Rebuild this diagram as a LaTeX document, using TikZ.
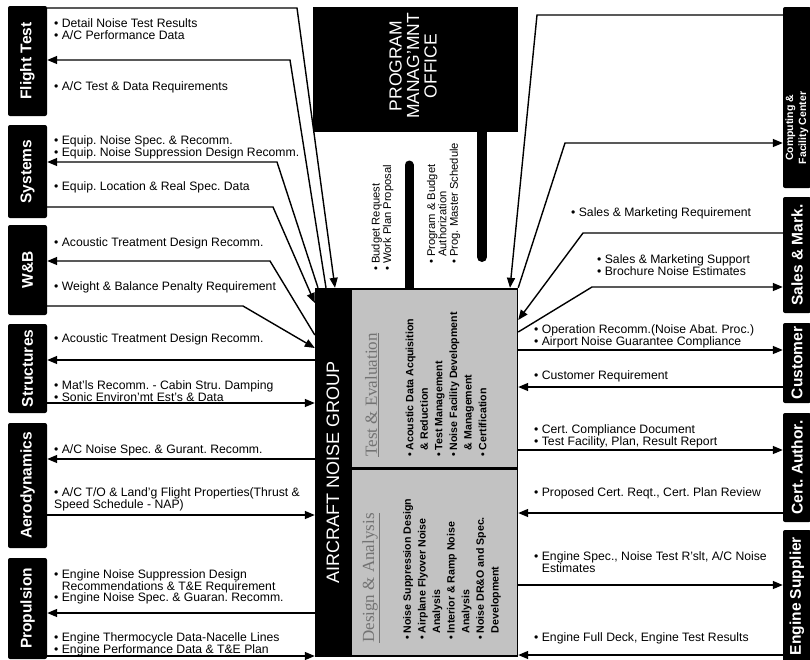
\documentclass[tikz,border=0pt]{standalone}
\usepackage{fontspec}
\setmainfont{Liberation Sans}
\newfontfamily\ttlfont{Liberation Serif}
\usetikzlibrary{arrows.meta,calc}
\frenchspacing
\begin{document}
\begin{tikzpicture}[x=1pt,y=-1pt,
  dept/.style={fill=black, rounded corners=2pt, inner sep=0pt, minimum width=39pt},
  rdept/.style={fill=black, rounded corners=2pt, inner sep=0pt, minimum width=28pt},
  depttext/.style={rotate=90, text=white, inner sep=0pt, font=\bfseries\fontsize{15.5}{16}\selectfont},
  lab/.style={anchor=west, align=left, inner sep=0pt, font=\fontsize{12.2}{11.8}\selectfont},
  conn/.style={line width=1.4pt},
  arr/.style={conn, -{Triangle[length=10pt,width=8pt]}},
  bar/.style={line width=10pt, line cap=round},
  grayarea/.style={fill=black!24, inner sep=0pt},
  ttl/.style={rotate=90, inner sep=0pt, text=black!55, font=\ttlfont\fontsize{17}{17}\selectfont},
  items/.style={rotate=90, anchor=west, align=left, inner sep=0pt, font=\bfseries\fontsize{10.6}{14.6}\selectfont},
  vlab/.style={rotate=90, anchor=west, align=left, inner sep=0pt, font=\fontsize{11.2}{11.4}\selectfont}
]
\useasboundingbox (0,0) rectangle (810,659);
\fill[white] (0,0) rectangle (810,659);

% ---------- left departments ----------
\node[dept, minimum height=110pt] (ft) at (27.5,61) {};
\node[depttext] (ftt) at (ft) {Flight Test};
\node[dept, minimum height=93pt] (sys) at (27.5,171.5) {};
\node[depttext] (syst) at (sys) {Systems};
\node[dept, minimum height=90pt] (wb) at (27.5,270) {};
\node[depttext] (wbt) at (wb) {W\&B};
\node[dept, minimum height=89pt] (str) at (27.5,368.5) {};
\node[depttext] (strt) at (str) {Structures};
\node[dept, minimum height=125pt] (aero) at (27.5,485.5) {};
\node[depttext] (aerot) at (aero) {Aerodynamics};
\node[dept, minimum height=101pt] (prop) at (27.5,608.5) {};
\node[depttext] (propt) at (prop) {Propulsion};

% ---------- right departments ----------
\node[rdept, minimum height=181pt] (comp) at (797,97.5) {};
\node[rotate=90, text=white, inner sep=0pt, align=center, font=\bfseries\fontsize{10.5}{13}\selectfont] (compt) at (797,128) {Computing \&\\Facility Center};
\node[rdept, minimum height=116pt] (sales) at (797,255) {};
\node[depttext] (salest) at (sales) {Sales \& Mark.};
\node[rdept, minimum height=80pt] (cust) at (797,363) {};
\node[depttext] (custt) at (cust) {Customer};
\node[rdept, minimum height=109pt] (cert) at (797,467.5) {};
\node[depttext] (certt) at (cert) {Cert. Author.};
\node[rdept, minimum height=132pt] (eng) at (797,596) {};
\node[depttext] (engt) at (eng) {Engine Supplier};

% ---------- program management office ----------
\node[fill=black, inner sep=0pt, minimum width=205pt, minimum height=125pt] (pmo) at (415.5,69.5) {};
\draw[bar] (pmo.south -| 482,0) -- (482,257);
\draw[line width=9pt, line cap=round] (409,288) -- (409,165);
\node[rotate=90, text=white, align=center, inner sep=0pt, font=\fontsize{17.5}{17.5}\selectfont] (pmot) at (413,66) {PROGRAM\\MANAG'MNT\\OFFICE};

% ---------- aircraft noise group ----------
\node[fill=black, inner sep=0pt, minimum width=203pt, minimum height=369pt] (ang) at (416.5,472.5) {};
\node[grayarea, minimum width=165pt, minimum height=177pt] (te) at (434.5,378.5) {};
\node[grayarea, minimum width=165pt, minimum height=185pt] (da) at (434.5,562.5) {};
\node[rotate=90, text=white, inner sep=0pt, font=\fontsize{18}{18}\selectfont] (angt) at (333,472) {AIRCRAFT NOISE GROUP};

\node[ttl] (tet) at (372,395) {\underline{Test \& Evaluation}};
\node[items] (tei) at (446,457) {• Acoustic Data Acquisition\\\phantom{• }\& Reduction\\• Test Management\\• Noise Facility Development\\\phantom{• }\& Management\\• Certification};
\node[ttl] (dat) at (371,578) {\underline{Design \& Analysis}};
\node[items] (dai) at (452,640) {• Noise Suppression Design\\• Airplane Flyover Noise\\\phantom{• }Analysis\\• Interior \& Ramp Noise\\\phantom{• }Analysis\\• Noise DR\&O and Spec.\\\phantom{• }Development};

% budget labels
\node[vlab] (bud) at (382.5,271) {• Budget Request\\• Work Plan Proposal};
\node[vlab] (prg) at (443.5,264) {• Program \& Budget\\\phantom{• }Authorization\\• Prog. Master Schedule};

% ---------- left connectors ----------
\draw[arr] (ft.east |- 0,8) -- (297,8) -- (335,0 |- ang.north);
\draw[arr] (326,0 |- ang.north) -- (290,60) -- (ft.east |- 0,60);
\draw[arr] (318,0 |- ang.north) -- (277,162) -- (sys.east |- 0,162);
\draw[arr] (sys.east |- 0,207) -- (273,207) -- (ang.west |- 0,303);
\draw[arr] (ang.west |- 0,335) -- (270,261) -- (wb.east |- 0,261);
\draw[arr] (wb.east |- 0,306) -- (243,306) -- (ang.west |- 0,348);
\draw[arr] (ang.west |- 0,360) -- (str.east |- 0,360);
\draw[arr] (str.east |- 0,403) -- (ang.west |- 0,403);
\draw[arr] (ang.west |- 0,459) -- (aero.east |- 0,459);
\draw[arr] (aero.east |- 0,515) -- (ang.west |- 0,515);
\draw[arr] (ang.west |- 0,613) -- (prop.east |- 0,613);
\draw[arr] (prop.east |- 0,656) -- (ang.west |- 0,656);

% ---------- right connectors ----------
\draw[arr] (comp.west |- 0,15) -- (537,15) -- (510,0 |- ang.north);
\draw[arr] (ang.north east) -- (565,143) -- (comp.west |- 0,143);
\draw[arr] (sales.west |- 0,233) -- (583,233) -- (ang.east |- 0,320);
\draw[arr] (ang.east |- 0,332) -- (592,287) -- (sales.west |- 0,287);
\draw[arr] (ang.east |- 0,350) -- (cust.west |- 0,350);
\draw[arr] (cust.west |- 0,387) -- (ang.east |- 0,387);
\draw[arr] (ang.east |- 0,450) -- (cert.west |- 0,450);
\draw[arr] (cert.west |- 0,513) -- (ang.east |- 0,513);
\draw[arr] (ang.east |- 0,585) -- (eng.west |- 0,585);
\draw[arr] (eng.west |- 0,655) -- (ang.east |- 0,655);

% ---------- left labels ----------
\node[lab] (l1) at (54,29.5) {• Detail Noise Test Results\\• A/C Performance Data};
\node[lab] (l2) at (54,87) {• A/C Test \& Data Requirements};
\node[lab] (l3) at (54,147.5) {• Equip. Noise Spec. \& Recomm.\\• Equip. Noise Suppression Design Recomm.};
\node[lab] (l4) at (54,187) {• Equip. Location \& Real Spec. Data};
\node[lab] (l5) at (54,243) {• Acoustic Treatment Design Recomm.};
\node[lab] (l6) at (54,287) {• Weight \& Balance Penalty Requirement};
\node[lab] (l7) at (54,339) {• Acoustic Treatment Design Recomm.};
\node[lab] (l8) at (54,391.5) {• Mat'ls Recomm. - Cabin Stru. Damping\\• Sonic Environ'mt Est's \& Data};
\node[lab] (l9) at (54,450) {• A/C Noise Spec. \& Gurant. Recomm.};
\node[lab] (l10) at (54,499.5) {• A/C T/O \& Land'g Flight Properties(Thrust \&\\Speed Schedule - NAP)};
\node[lab] (l11) at (54,587) {• Engine Noise Suppression Design\\\phantom{• }Recommendations \& T\&E Requirement\\• Engine Noise Spec. \& Guaran. Recomm.};
\node[lab] (l12) at (54,644.5) {• Engine Thermocycle Data-Nacelle Lines\\• Engine Performance Data \& T\&E Plan};

% ---------- right labels ----------
\node[lab] (r1) at (571,213) {• Sales \& Marketing Requirement};
\node[lab] (r2) at (597,265) {• Sales \& Marketing Support\\• Brochure Noise Estimates};
\node[lab] (r3) at (534,336.5) {• Operation Recomm.(Noise Abat. Proc.)\\• Airport Noise Guarantee Compliance};
\node[lab] (r4) at (534,376) {• Customer Requirement};
\node[lab] (r5) at (534,436.5) {• Cert. Compliance Document\\• Test Facility, Plan, Result Report};
\node[lab] (r6) at (534,493) {• Proposed Cert. Reqt., Cert. Plan Review};
\node[lab] (r7) at (534,562.5) {• Engine Spec., Noise Test R'slt, A/C Noise\\\phantom{• }Estimates};
\node[lab] (r8) at (534,638) {• Engine Full Deck, Engine Test Results};
\end{tikzpicture}
\end{document}
